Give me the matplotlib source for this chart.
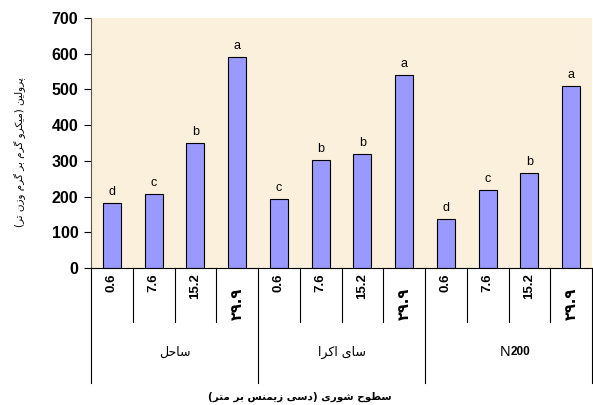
import matplotlib.pyplot as plt

# داده ها
groups = ["ساحل", "سای اکرا", "N200"]
levels = ["0.6", "7.6", "15.2", "۲۹.۹"]
proline = [182, 208, 349, 591,
           192, 302, 318, 541,
           137, 218, 266, 510]
letters = ["d", "c", "b", "a",
           "c", "b", "b", "a",
           "d", "c", "b", "a"]
ylabel = "پرولین (میکرو گرم بر گرم وزن تر)"
xlabel = "سطوح شوری (دسی زیمنس بر متر)"

# شکل دهی ساده حروف فارسی (matplotlib خودش اتصال حروف را انجام نمی دهد)
FORMS = {
    'ا': ('\ufe8d', '\ufe8e', None, None),
    'ب': ('\ufe8f', '\ufe90', '\ufe91', '\ufe92'),
    'پ': ('\ufb56', '\ufb57', '\ufb58', '\ufb59'),
    'ت': ('\ufe95', '\ufe96', '\ufe97', '\ufe98'),
    'ح': ('\ufea1', '\ufea2', '\ufea3', '\ufea4'),
    'د': ('\ufea9', '\ufeaa', None, None),
    'ر': ('\ufead', '\ufeae', None, None),
    'ز': ('\ufeaf', '\ufeb0', None, None),
    'س': ('\ufeb1', '\ufeb2', '\ufeb3', '\ufeb4'),
    'ش': ('\ufeb5', '\ufeb6', '\ufeb7', '\ufeb8'),
    'ط': ('\ufec1', '\ufec2', '\ufec3', '\ufec4'),
    'ک': ('\ufb8e', '\ufb8f', '\ufb90', '\ufb91'),
    'گ': ('\ufb92', '\ufb93', '\ufb94', '\ufb95'),
    'ل': ('\ufedd', '\ufede', '\ufedf', '\ufee0'),
    'م': ('\ufee1', '\ufee2', '\ufee3', '\ufee4'),
    'ن': ('\ufee5', '\ufee6', '\ufee7', '\ufee8'),
    'و': ('\ufeed', '\ufeee', None, None),
    'ی': ('\ufbfc', '\ufbfd', '\ufbfe', '\ufbff'),
}


def fa(s):
    out = []
    for i, c in enumerate(s):
        if c not in FORMS:
            out.append(c)
            continue
        f = FORMS[c]
        prev = s[i - 1] if i > 0 else ''
        nxt = s[i + 1] if i + 1 < len(s) else ''
        jp = prev in FORMS and FORMS[prev][2] is not None
        jn = nxt in FORMS and f[2] is not None
        idx = 3 if (jp and jn) else 1 if jp else 2 if jn else 0
        out.append(f[idx])
    mirror = {'(': ')', ')': '('}
    return ''.join(mirror.get(c, c) for c in reversed(out))


plt.rcParams['font.family'] = ['Liberation Sans', 'DejaVu Sans']

fig = plt.figure(figsize=(5.93, 4.05), dpi=100)
ax = fig.add_axes([91 / 593, 1 - 268 / 405, 501 / 593, 250 / 405])
ax.set_facecolor('#fbf0dc')

x = list(range(len(proline)))
ax.bar(x, proline, width=0.43, color='#9999ff', edgecolor='black', linewidth=0.8, zorder=2)
for xi, v, l in zip(x, proline, letters):
    ax.text(xi, v + 14, l, ha='center', va='bottom', fontsize=9)

ax.set_xlim(-0.5, len(proline) - 0.5)
ax.set_ylim(0, 700)
ax.set_yticks(range(0, 701, 100))
ax.tick_params(axis='y', direction='out', length=5, width=0.8, labelsize=11.5, pad=4)
for lab in ax.get_yticklabels():
    lab.set_fontweight('bold')
ax.set_xticks([])
for s in ['top', 'right']:
    ax.spines[s].set_visible(False)
ax.spines['left'].set_color('#555555')

# برچسب های سطوح شوری و خطوط جداکننده
tr = ax.get_xaxis_transform()
for i in range(len(proline)):
    lv = levels[i % 4]
    if lv.startswith('۲'):
        ax.text(i, -0.08, lv, transform=tr, rotation=90, ha='center', va='top',
                fontsize=10.5, fontweight='bold', family=['DejaVu Sans'])
    else:
        ax.text(i, -0.02, lv, transform=tr, rotation=90, ha='center', va='top',
                fontsize=9.5, fontweight='bold')
for k in range(len(proline) + 1):
    b = k - 0.5
    y2 = -0.46 if k % 4 == 0 else -0.216
    ax.plot([b, b], [0, y2], transform=tr, color='black', lw=0.8, clip_on=False)

for g, name in enumerate(groups):
    cx = g * 4 + 1.5
    if name.startswith('N'):
        ax.text(cx + 0.05, -0.336, 'N', transform=tr, ha='right', va='center', fontsize=10.5)
        ax.text(cx + 0.05, -0.336, '200', transform=tr, ha='left', va='center',
                fontsize=8.5, fontweight='bold')
    else:
        ax.text(cx, -0.336, fa(name), transform=tr, ha='center', va='center',
                fontsize=9, family=['DejaVu Sans'])

fig.text(0.505, 1 - 397 / 405, fa(xlabel), ha='center', va='center', fontsize=7.5,
         fontweight='bold', family=['DejaVu Sans'])
fig.text(20 / 593, 1 - 152 / 405, fa(ylabel), ha='center', va='center', rotation=90,
         fontsize=7.5, family=['DejaVu Sans'])

fig.savefig('out.png', dpi=100)
